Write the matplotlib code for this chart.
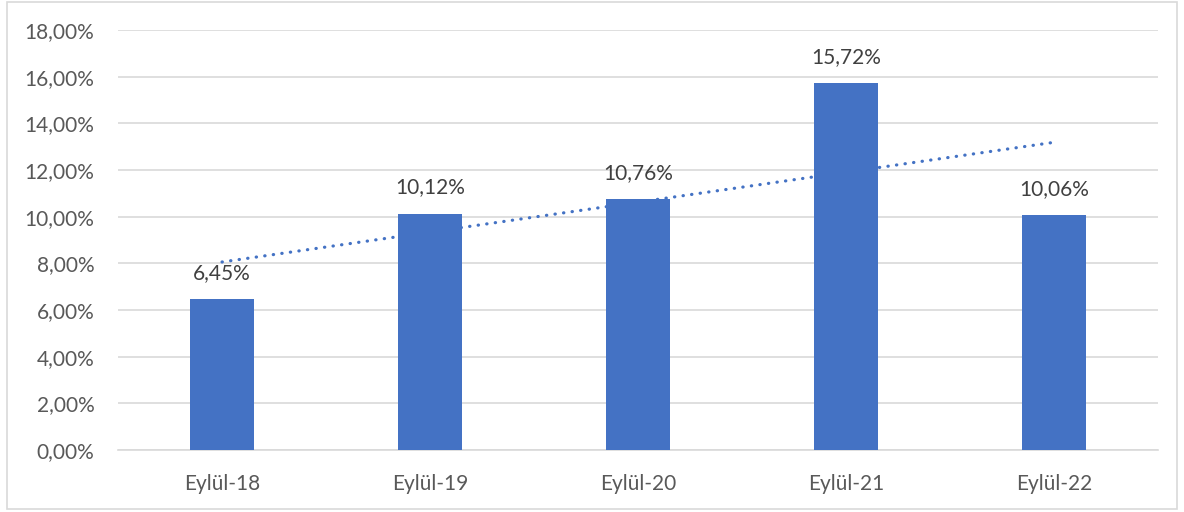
import numpy as np
import matplotlib.pyplot as plt
from matplotlib.patches import Rectangle

categories = ['Eylül-18', 'Eylül-19', 'Eylül-20', 'Eylül-21', 'Eylül-22']
values = [6.45, 10.12, 10.76, 15.72, 10.06]
labels = ['6,45%', '10,12%', '10,76%', '15,72%', '10,06%']

plt.rcParams['font.family'] = ['Lato', 'DejaVu Sans']

fig = plt.figure(figsize=(11.84, 5.12), dpi=100)
ax = fig.add_axes([0.0997, 0.1211, 0.8783, 0.8203])

x = np.arange(len(categories))
# linear trendline, drawn under the bars
k, b = np.polyfit(x, values, 1)
ax.plot(x, k * x + b, color='#4472C4', linestyle=(0, (0.1, 2.6)), linewidth=2.3,
        dash_capstyle='round', zorder=2)
ax.bar(x, values, width=0.31, color='#4472C4', zorder=3)

for xi, v, t in zip(x, values, labels):
    ax.text(xi, v + 0.7, t, ha='center', va='bottom', fontsize=15, color='#404040', zorder=4)

ax.set_xlim(-0.5, len(categories) - 0.5)
ax.set_ylim(0, 18)
ax.set_yticks(np.arange(0, 19, 2))
ax.set_yticklabels(['%d,00%%' % t for t in range(0, 19, 2)])
ax.set_xticks(x)
ax.set_xticklabels(categories)
ax.tick_params(axis='both', length=0, labelsize=15, colors='#595959')
ax.tick_params(axis='y', pad=17)
ax.tick_params(axis='x', pad=17)
ax.grid(axis='y', color='#D9D9D9', linewidth=1.2, zorder=0)
ax.set_axisbelow(True)
for s in ['top', 'right', 'left']:
    ax.spines[s].set_visible(False)
ax.spines['bottom'].set_color('#D9D9D9')
ax.spines['bottom'].set_linewidth(1.2)

fig.patches.append(Rectangle((0.006, 0.006), 0.988, 0.99, transform=fig.transFigure,
                             fill=False, edgecolor='#D9D9D9', linewidth=1.2))

fig.savefig('out.png', dpi=100)
